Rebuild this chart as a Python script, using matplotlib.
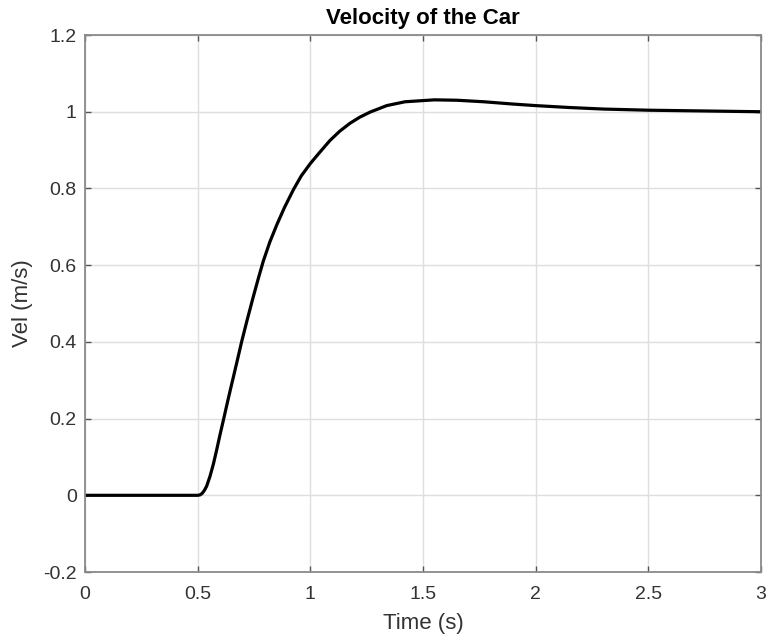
import matplotlib
matplotlib.use("Agg")
import matplotlib.pyplot as plt

time_s = [0.00, 0.50, 0.51, 0.52, 0.53, 0.54, 0.555, 0.57, 0.585, 0.60, 0.615,
          0.63, 0.645, 0.66, 0.68, 0.695, 0.72, 0.747, 0.77, 0.791, 0.82, 0.851,
          0.885, 0.925, 0.96, 1.00, 1.04, 1.087, 1.13, 1.176, 1.22, 1.265, 1.339,
          1.42, 1.55, 1.65, 1.77, 1.90, 2.00, 2.15, 2.30, 2.50, 2.75, 3.00]
velocity = [0.0, 0.0, 0.001, 0.005, 0.013, 0.024, 0.05, 0.082, 0.12, 0.16, 0.198,
            0.237, 0.275, 0.312, 0.362, 0.40, 0.458, 0.518, 0.567, 0.61, 0.66, 0.705,
            0.75, 0.797, 0.833, 0.865, 0.893, 0.925, 0.949, 0.97, 0.986, 0.999, 1.016,
            1.026, 1.031, 1.03, 1.026, 1.02, 1.016, 1.011, 1.007, 1.004, 1.002, 1.0]

x_ticks = [0, 0.5, 1, 1.5, 2, 2.5, 3]
x_tick_labels = ["0", "0.5", "1", "1.5", "2", "2.5", "3"]
y_ticks = [-0.2, 0, 0.2, 0.4, 0.6, 0.8, 1, 1.2]
y_tick_labels = ["-0.2", "0", "0.2", "0.4", "0.6", "0.8", "1", "1.2"]

plt.rcParams['font.family'] = ['Liberation Sans', 'DejaVu Sans']

fig = plt.figure(figsize=(7.67, 6.38), dpi=100)
ax = fig.add_axes([0.1108, 0.1034, 0.8814, 0.8417])
ax.plot(time_s, velocity, color='black', linewidth=2.3, solid_capstyle='butt',
        solid_joinstyle='round')

ax.set_xlim(0, 3)
ax.set_ylim(-0.2, 1.2)
ax.set_xticks(x_ticks)
ax.set_xticklabels(x_tick_labels)
ax.set_yticks(y_ticks)
ax.set_yticklabels(y_tick_labels)

ax.grid(True, color='#dedede', linewidth=1.0)
ax.set_axisbelow(True)
for s in ax.spines.values():
    s.set_color('#8a8a8a')
    s.set_linewidth(1.3)
ax.tick_params(direction='in', top=True, right=True, length=4, width=1,
               colors='#555555', labelcolor='#333333', labelsize=14)
ax.tick_params(axis='x', pad=10)
ax.tick_params(axis='y', pad=6)

ax.set_xlabel('Time (s)', fontsize=16, color='#333333', labelpad=7)
ax.set_ylabel('Vel (m/s)', fontsize=16, color='#333333', labelpad=7)
ax.set_title('Velocity of the Car', fontsize=16, fontweight='bold', color='black', pad=8)

fig.savefig('out.png', dpi=100, facecolor='white')
